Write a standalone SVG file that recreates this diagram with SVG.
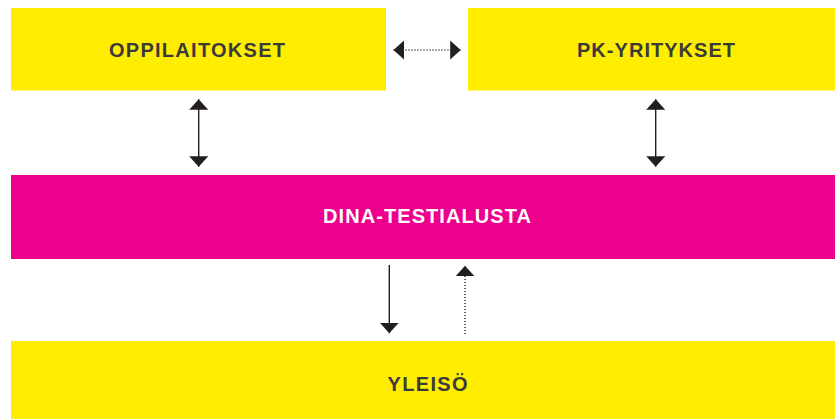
<svg xmlns="http://www.w3.org/2000/svg" width="835" height="419" viewBox="0 0 835 419">
<style>
.y{fill:#FFED00}
.p{fill:#EC008C}
.t{font-family:"Liberation Sans",Arial,sans-serif;font-weight:bold;font-size:20px;fill:#3A3A3A}
.w{fill:#FFFFFF}
.c{stroke:#231F20;stroke-width:1.4;fill:none}
.d{stroke-dasharray:1 2}
</style>
<defs>
<marker id="ah" markerUnits="userSpaceOnUse" markerWidth="11" markerHeight="19" refX="10.5" refY="9.5" orient="auto-start-reverse" viewBox="0 0 11 19">
<path d="M0,0 L10.5,9.5 L0,19 z" fill="#231F20"/>
</marker>
</defs>
<rect width="835" height="419" fill="#FFFFFF"/>
<g id="oppilaitokset"><rect class="y" x="11" y="8" width="375" height="82.5"/><text class="t" x="109" y="57" textLength="176" lengthAdjust="spacing">OPPILAITOKSET</text></g>
<g id="pk-yritykset"><rect class="y" x="468" y="8" width="367" height="82.5"/><text class="t" x="577" y="57" textLength="158" lengthAdjust="spacing">PK-YRITYKSET</text></g>
<g id="dina"><rect class="p" x="11" y="175" width="824" height="84"/><text class="t w" x="323" y="223.3" textLength="208" lengthAdjust="spacing">DINA-TESTIALUSTA</text></g>
<g id="yleiso"><rect class="y" x="11" y="341" width="824" height="78"/><text class="t" x="387.5" y="391" textLength="80" lengthAdjust="spacing">YLEISÖ</text></g>
<g id="connectors">
<line class="c d" x1="393.5" y1="50" x2="460.7" y2="50" marker-start="url(#ah)" marker-end="url(#ah)"/>
<line class="c" x1="198.7" y1="99.3" x2="198.7" y2="166.7" marker-start="url(#ah)" marker-end="url(#ah)"/>
<line class="c" x1="655.7" y1="99.3" x2="655.7" y2="166.7" marker-start="url(#ah)" marker-end="url(#ah)"/>
<line class="c" x1="389.3" y1="265" x2="389.3" y2="333.3" marker-end="url(#ah)"/>
<line class="c d" x1="465" y1="334" x2="465" y2="265.7" marker-end="url(#ah)"/>
</g>
</svg>
